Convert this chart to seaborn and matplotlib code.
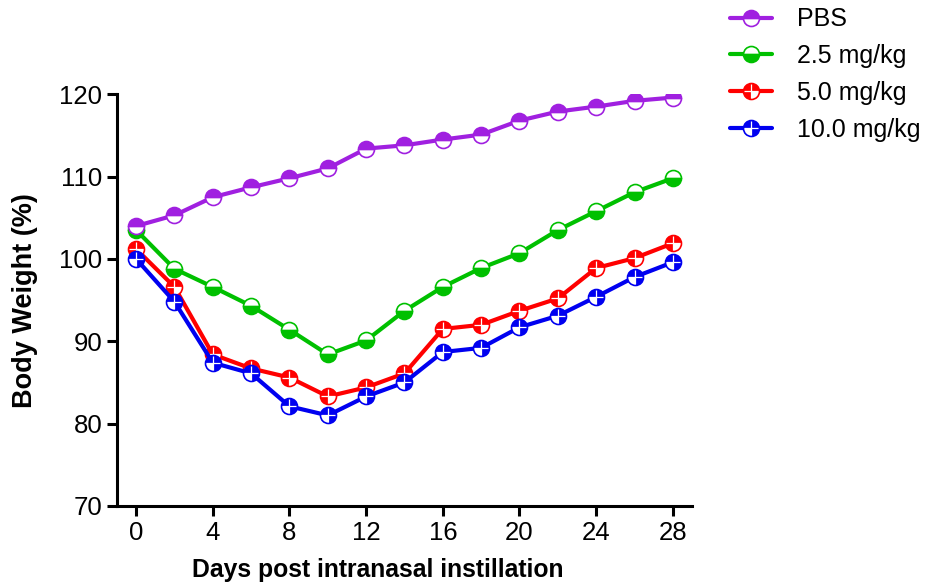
import numpy as np
import pandas as pd
import matplotlib
matplotlib.use("Agg")
import matplotlib.pyplot as plt
from matplotlib.path import Path
import seaborn as sns

days = [0, 2, 4, 6, 8, 10, 12, 14, 16, 18, 20, 22, 24, 26, 28]
pbs = [104.0, 105.3, 107.5, 108.7, 109.8, 111.0, 113.4, 113.8, 114.5, 115.1, 116.8, 117.9, 118.5, 119.2, 119.6]
dose_2_5 = [103.5, 98.8, 96.6, 94.3, 91.4, 88.4, 90.1, 93.7, 96.6, 98.9, 100.7, 103.5, 105.8, 108.1, 109.8]
dose_5_0 = [101.2, 96.6, 88.4, 86.7, 85.6, 83.3, 84.4, 86.1, 91.5, 92.0, 93.7, 95.2, 98.9, 100.1, 101.9]
dose_10_0 = [100.0, 94.8, 87.4, 86.1, 82.1, 81.0, 83.3, 85.0, 88.7, 89.2, 91.7, 93.1, 95.4, 97.8, 99.6]
labels = ["PBS", "2.5 mg/kg", "5.0 mg/kg", "10.0 mg/kg"]
xticks = [0, 4, 8, 12, 16, 20, 24, 28]
yticks = [70, 80, 90, 100, 110, 120]

colors = {"PBS": "#A020E0", "2.5 mg/kg": "#00C000", "5.0 mg/kg": "#FF0000", "10.0 mg/kg": "#0000F0"}

sns.set_theme(style="ticks")
plt.rcParams["font.family"] = ["Liberation Sans", "DejaVu Sans"]
plt.rcParams["text.color"] = "black"
plt.rcParams["axes.labelcolor"] = "black"
plt.rcParams["xtick.color"] = "black"
plt.rcParams["ytick.color"] = "black"

fig = plt.figure(figsize=(9.32, 5.84), dpi=100)
ax = fig.add_axes([0.1255, 0.1336, 0.617, 0.705])

series = {"PBS": pbs, "2.5 mg/kg": dose_2_5, "5.0 mg/kg": dose_5_0, "10.0 mg/kg": dose_10_0}
MS = 11.5
LW = 3.0

wedge_red = Path.wedge(0, 270)
wedge_blue = Path.wedge(-90, 180)

handles = {}
order = ["2.5 mg/kg", "PBS", "5.0 mg/kg", "10.0 mg/kg"]
z = 3
for name in order:
    vals = series[name]
    df = pd.DataFrame({"day": days, "w": vals})
    c = colors[name]
    if name == "PBS":
        kw = dict(marker="o", fillstyle="top", markerfacecoloralt="white")
    elif name == "2.5 mg/kg":
        kw = dict(marker="o", fillstyle="bottom", markerfacecoloralt="white")
    else:
        kw = dict(marker="o", markerfacecolor="white")
    sns.lineplot(data=df, x="day", y="w", ax=ax, color=c, lw=LW, markersize=MS,
                 markeredgecolor=c, markeredgewidth=1.2, zorder=z, **kw)
    line = ax.get_lines()[-1]
    if name in ("5.0 mg/kg", "10.0 mg/kg"):
        wp = wedge_red if name == "5.0 mg/kg" else wedge_blue
        ov, = ax.plot(days, vals, ls="none", marker=wp, markersize=MS, color=c,
                      markeredgewidth=0, zorder=z + 0.1)
        cr, = ax.plot(days, vals, ls="none", marker="+", markersize=MS - 2, color="white",
                      markeredgewidth=0.9, zorder=z + 0.2)
        handles[name] = (line, ov, cr)
    else:
        handles[name] = line
    z += 1

ax.set_xlim(-1, 29)
ax.set_ylim(70, 120)
ax.set_xticks(xticks)
ax.set_yticks(yticks)
ax.tick_params(axis="both", labelsize=18.5, width=2.2, length=7, color="black", labelcolor="black")
for s in ["top", "right"]:
    ax.spines[s].set_visible(False)
for s in ["left", "bottom"]:
    ax.spines[s].set_linewidth(2.2)
    ax.spines[s].set_color("black")
ax.set_xlabel("Days post intranasal instillation", fontsize=17.8, fontweight="bold", labelpad=10)
ax.xaxis.label.set_x(0.454)
ax.set_ylabel("Body Weight (%)", fontsize=19.5, fontweight="bold", labelpad=15)
ax.grid(False)

leg = fig.legend([handles[n] for n in labels], labels, loc="upper left",
                 bbox_to_anchor=(0.7586, 1.026), frameon=False, fontsize=18,
                 handlelength=1.7, handletextpad=1.0, labelspacing=0.51, numpoints=1)

fig.savefig("out.png", dpi=100)
